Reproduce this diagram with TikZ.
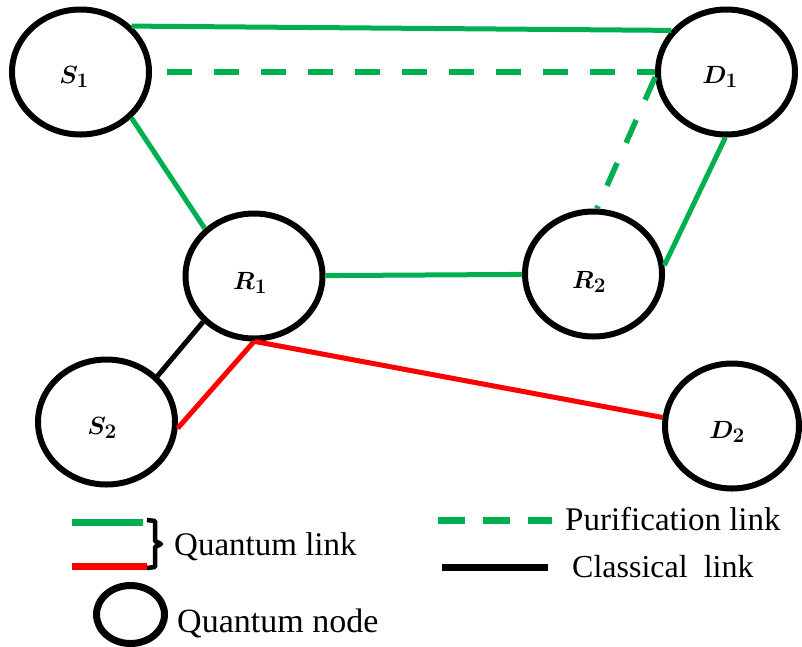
\documentclass[tikz,border=0pt]{standalone}
\usepackage{fontspec}
\setmainfont{Liberation Serif}
\usetikzlibrary{shapes.geometric}
\definecolor{qgreen}{RGB}{0,176,80}
\definecolor{qred}{RGB}{255,0,0}
\begin{document}
\begin{tikzpicture}[x=1pt,y=-1pt,
  qnode/.style={draw=black,line width=6pt,ellipse,inner sep=0pt,minimum width=137pt,minimum height=125pt},
  lbl/.style={inner sep=0pt,font=\fontsize{32}{34}\selectfont\boldmath},
  glink/.style={draw=qgreen,line width=5pt},
  rlink/.style={draw=qred,line width=5pt},
  klink/.style={draw=black,line width=5pt},
  plink/.style={draw=qgreen,line width=5.5pt,dash pattern=on 25pt off 22pt},
  legtext/.style={inner sep=0pt,anchor=base west,font=\fontsize{33}{36}\selectfont}]
\useasboundingbox (0,0) rectangle (802,646);
% nodes
\node[qnode] (S1) at (80.5,72) {};
\node[qnode] (D1) at (726.5,72) {};
\node[qnode] (R1) at (254,276) {};
\node[qnode] (R2) at (593.5,274) {};
\node[qnode] (S2) at (106.5,422) {};
\node[qnode,minimum width=134pt] (D2) at (732,426) {};
\node[lbl] (S1t) at (74,77) {$S_1$};
\node[lbl] (D1t) at (720,77) {$D_1$};
\node[lbl] (R1t) at (250,283) {$R_1$};
\node[lbl] (R2t) at (589,282) {$R_2$};
\node[lbl] (S2t) at (102,428) {$S_2$};
\node[lbl] (D2t) at (727,432) {$D_2$};
% links
\draw[glink] (S1.42) -- (D1.143);
\draw[plink,shorten <=15pt] (S1.east) -- (D1.west);
\draw[plink] (D1.184) -- (R2.87);
\draw[glink] (S1.-42) -- (R1.136);
\draw[glink] (D1.-91) -- (R2.7);
\draw[glink] (R1) -- (R2);
\draw[klink] (R1.222) -- (S2.42);
\draw[rlink] (R1.-90) -- (S2.-5);
\draw[rlink] (R1.-89) -- (D2.173);
% legend
\coordinate (lg1) at (72,522);
\coordinate (lg2) at (143,522);
\coordinate (lr1) at (72,566);
\coordinate (lr2) at (147,566);
\draw[draw=qgreen,line width=7pt] (lg1) -- (lg2);
\draw[draw=qred,line width=7pt] (lr1) -- (lr2);
\draw[line width=4.5pt,line join=round] (147,520) -- (155,521) -- (155,541) -- (161,544) -- (155,547) -- (155,567) -- (147,568);
\node[legtext] (tql) at (174,555) {Quantum link};
\node[draw=black,line width=7pt,ellipse,inner sep=0pt,minimum width=68pt,minimum height=58pt] (legnode) at (130.5,614.5) {};
\node[legtext,font=\fontsize{34}{36}\selectfont] (tqn) at (177,632) {Quantum node};
\coordinate (lp1) at (438,520);
\coordinate (lp2) at (552,520);
\coordinate (lk1) at (442,567);
\coordinate (lk2) at (548,567);
\draw[draw=qgreen,line width=7pt,dash pattern=on 27pt off 18pt] (lp1) -- (lp2);
\draw[draw=black,line width=7pt] (lk1) -- (lk2);
\node[legtext] (tpl) at (565,530) {Purification link};
\node[legtext,font=\fontsize{32}{36}\selectfont] (tcl) at (572,577) {Classical \ link};
\end{tikzpicture}
\end{document}
